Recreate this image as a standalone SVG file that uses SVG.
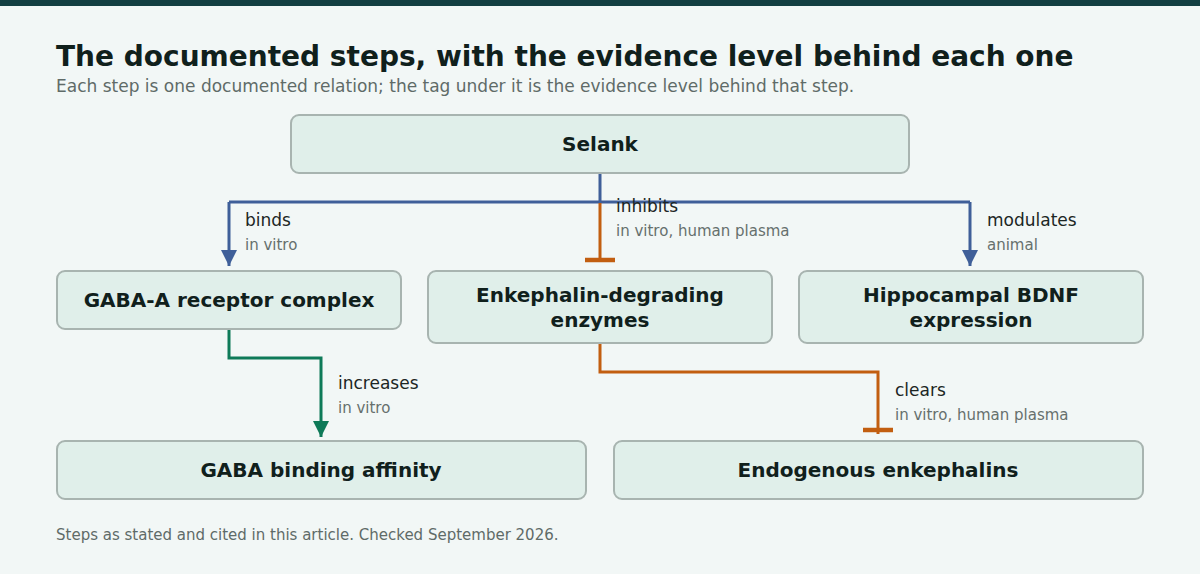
<svg xmlns="http://www.w3.org/2000/svg" width="1200" height="574" viewBox="0 0 1200 574">
<defs>
<style>
.bg{fill:#f2f7f6}
.node rect{fill:#e0efea;stroke:#a8b4b0;stroke-width:2}
.nl{font-family:"DejaVu Sans",sans-serif;font-weight:bold;font-size:20px;fill:#10201c;text-anchor:middle}
.el{font-family:"DejaVu Sans",sans-serif;font-size:17px;fill:#1c2624}
.tag{font-family:"DejaVu Sans",sans-serif;font-size:15px;fill:#66706d}
.blue{stroke:#3f5f99;stroke-width:3;fill:none}
.orange{stroke:#c25e10;stroke-width:3;fill:none}
.green{stroke:#0e7a58;stroke-width:3;fill:none}
.tbar{stroke:#c25e10;stroke-width:4.5;fill:none}
</style>
<marker id="ab" viewBox="0 0 10 10" refX="10" refY="5" markerWidth="16" markerHeight="16" markerUnits="userSpaceOnUse" orient="auto"><path d="M0,0 L10,5 L0,10 z" fill="#3f5f99"/></marker>
<marker id="ag" viewBox="0 0 10 10" refX="10" refY="5" markerWidth="16" markerHeight="16" markerUnits="userSpaceOnUse" orient="auto"><path d="M0,0 L10,5 L0,10 z" fill="#0e7a58"/></marker>
</defs>
<rect class="bg" x="0" y="0" width="1200" height="574"/>
<rect x="0" y="0" width="1200" height="6" fill="#133f42"/>
<text x="56" y="66" font-family="DejaVu Sans,sans-serif" font-weight="bold" font-size="28px" fill="#10201c">The documented steps, with the evidence level behind each one</text>
<text x="56" y="92" font-family="DejaVu Sans,sans-serif" font-size="17px" fill="#5f6b68">Each step is one documented relation; the tag under it is the evidence level behind that step.</text>

<g id="connectors">
<path class="blue" d="M600,173 V202"/>
<path class="blue" d="M229,202 H970"/>
<path class="blue" d="M229,202 V266" marker-end="url(#ab)"/>
<path class="blue" d="M970,202 V266" marker-end="url(#ab)"/>
<path class="orange" d="M600,203 V261"/>
<path class="tbar" d="M585,260 H615"/>
<path class="green" d="M229,329 V358 H321 V437" marker-end="url(#ag)"/>
<path class="orange" d="M600,343 V372 H878 V434"/>
<path class="tbar" d="M863,430 H893"/>
<text class="el" x="245" y="226">binds</text>
<text class="tag" x="245" y="250">in vitro</text>
<text class="el" x="616" y="212">inhibits</text>
<text class="tag" x="616" y="236">in vitro, human plasma</text>
<text class="el" x="987" y="226">modulates</text>
<text class="tag" x="987" y="250">animal</text>
<text class="el" x="338" y="389">increases</text>
<text class="tag" x="338" y="413">in vitro</text>
<text class="el" x="895" y="396">clears</text>
<text class="tag" x="895" y="420">in vitro, human plasma</text>
</g>

<g id="selank" class="node"><rect x="291" y="115" width="618" height="58" rx="8"/><text class="nl" x="600" y="151">Selank</text></g>
<g id="gabaa" class="node"><rect x="57" y="271" width="344" height="58" rx="8"/><text class="nl" x="229" y="307">GABA-A receptor complex</text></g>
<g id="enzymes" class="node"><rect x="428" y="271" width="344" height="72" rx="8"/><text class="nl" x="600" y="302">Enkephalin-degrading</text><text class="nl" x="600" y="327">enzymes</text></g>
<g id="bdnf" class="node"><rect x="799" y="271" width="344" height="72" rx="8"/><text class="nl" x="971" y="302">Hippocampal BDNF</text><text class="nl" x="971" y="327">expression</text></g>
<g id="gababind" class="node"><rect x="57" y="441" width="529" height="58" rx="8"/><text class="nl" x="321" y="477">GABA binding affinity</text></g>
<g id="enkephalins" class="node"><rect x="614" y="441" width="529" height="58" rx="8"/><text class="nl" x="878" y="477">Endogenous enkephalins</text></g>

<text x="56" y="540" font-family="DejaVu Sans,sans-serif" font-size="15px" fill="#5f6b68">Steps as stated and cited in this article. Checked September 2026.</text>
</svg>
